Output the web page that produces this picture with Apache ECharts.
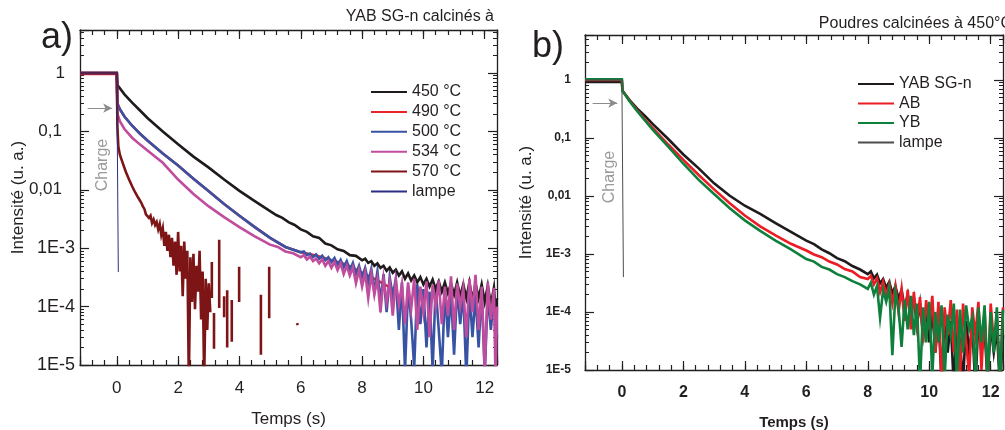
<!DOCTYPE html>
<html>
<head>
<meta charset="utf-8">
<script src="https://cdn.jsdelivr.net/npm/echarts@6/dist/echarts.min.js"></script>
<style>
html,body{margin:0;padding:0;background:#fff;}
#c{width:1005px;height:430px;}
</style>
</head>
<body>
<div id="c"></div>
<script>
// ---------- Panel a : YAB SG-n calcined at various temperatures ----------
const legendA = ['450 °C', '490 °C', '500 °C', '534 °C', '570 °C', 'lampe'];

const tA450 = [-1.2, 0, 0.02, 0.25, 0.5, 0.75, 1.0, 1.25, 1.5, 2.0, 2.5, 3.0, 3.5, 4.0, 4.5, 5.0,
  5.2, 5.4, 5.6, 5.8, 6.0, 6.2, 6.4, 6.6, 6.8, 7.0, 7.2, 7.4, 7.6, 7.8, 8.0,
  8.1, 8.2, 8.3, 8.4, 8.5, 8.6, 8.7, 8.8, 8.9, 9.0, 9.1, 9.2, 9.3, 9.4, 9.5, 9.6, 9.7, 9.8, 9.9, 10.0,
  10.1, 10.2, 10.3, 10.4, 10.5, 10.6, 10.7, 10.8, 10.9, 11.0, 11.1, 11.2, 11.3, 11.4, 11.5, 11.6, 11.7, 11.8, 11.9, 12.0,
  12.1, 12.2, 12.3, 12.35, 12.4];
const vA450 = [1, 1, 0.62, 0.43, 0.31, 0.23, 0.17, 0.13, 0.1, 0.06, 0.037, 0.024, 0.015, 0.0096, 0.0064, 0.0043,
  0.0037, 0.0033, 0.0028, 0.0025, 0.0021, 0.0019, 0.0016, 0.0015, 0.0012, 0.00112, 0.00096, 0.0009, 0.00076, 0.00074, 0.00062,
  0.00066, 0.00056, 0.0006, 0.0005, 0.00055, 0.00046, 0.0005, 0.00041, 0.00047, 0.00038, 0.00043, 0.00034, 0.0004, 0.0003, 0.00037, 0.00028, 0.00034, 0.00026, 0.00032, 0.00024,
  0.0003, 0.00022, 0.00029, 0.0002, 0.00027, 0.00018, 0.00026, 0.00017, 0.00025, 0.00016, 0.00026, 0.00015, 0.00024, 0.00014, 0.00026, 0.00013, 0.00025, 0.00014, 0.00024, 0.00012,
  0.00023, 0.00011, 0.00021, 0.00009, 0.00014];

const tA500 = [-1.2, 0, 0.02, 0.1, 0.25, 0.5, 0.75, 1.0, 1.5, 2.0, 2.5, 3.0, 3.5, 4.0, 4.5, 5.0, 5.5,
  6.0, 6.1, 6.2, 6.3, 6.4, 6.5, 6.6, 6.7, 6.8, 6.9, 7.0, 7.1, 7.2, 7.3, 7.4, 7.5, 7.6, 7.7, 7.8, 7.9,
  8.0, 8.1, 8.2, 8.3, 8.4, 8.5, 8.6, 8.7, 8.8, 8.9, 9.0, 9.1, 9.2, 9.3, 9.4, 9.5, 9.6, 9.7, 9.8, 9.9,
  10.0, 10.1, 10.2, 10.3, 10.4, 10.5, 10.6, 10.7, 10.8, 10.9, 11.0, 11.1, 11.2, 11.3, 11.4, 11.5, 11.6, 11.7, 11.8, 11.9,
  12.0, 12.1, 12.2, 12.3, 12.4];
const vA500 = [1, 1, 0.3, 0.24, 0.18, 0.125, 0.092, 0.07, 0.042, 0.026, 0.0155, 0.0094, 0.0057, 0.0036, 0.0023, 0.0015, 0.00105,
  0.00085, 0.00088, 0.00076, 0.00081, 0.0007, 0.00078, 0.00066, 0.00074, 0.00062, 0.0007, 0.00058, 0.00068, 0.00052, 0.00063, 0.00047, 0.0006, 0.00042, 0.00056, 0.00036, 0.0005,
  0.00032, 0.00046, 0.00026, 0.00044, 0.00018, 0.0004, 0.00012, 0.00036, 0.00008, 0.00032, 0.00015, 0.0003, 0.00004, 0.00026, 0.000008, 0.00022, 0.00006, 0.000009, 0.00024, 0.00005,
  0.0002, 0.00002, 0.00018, 0.000008, 0.00022, 0.00004, 0.000007, 0.0002, 0.00003, 0.00017, 0.000015, 0.00021, 0.00005, 0.00018, 0.000006, 0.00019, 0.00003, 0.00016, 0.00002, 0.0002,
  0.000007, 0.00017, 0.00004, 0.00015, 0.00003];

const tA490 = [-1.2, 0, 0.02, 0.1, 0.25, 0.5, 0.75, 1.0, 1.5, 2.0, 2.5, 3.0, 3.5, 4.0, 4.5, 5.0, 5.5,
  6.0, 6.5, 7.0, 7.5, 8.0, 8.5, 9.0];
const vA490 = [0.96, 0.96, 0.3, 0.24, 0.18, 0.125, 0.092, 0.07, 0.042, 0.026, 0.0155, 0.0094, 0.0057, 0.0036, 0.0023, 0.0015, 0.00105,
  0.00085, 0.00075, 0.00062, 0.00052, 0.00038, 0.00028, 0.0002];

const tA534 = [-1.2, 0, 0.02, 0.1, 0.25, 0.5, 0.75, 1.0, 1.5, 2.0, 2.5, 3.0, 3.5, 4.0, 4.5, 5.0, 5.25, 5.5, 5.75,
  6.0, 6.1, 6.2, 6.3, 6.4, 6.5, 6.6, 6.7, 6.8, 6.9, 7.0, 7.1, 7.2, 7.3, 7.4, 7.5, 7.6, 7.7, 7.8, 7.9,
  8.0, 8.1, 8.2, 8.3, 8.4, 8.5, 8.6, 8.7, 8.8, 8.9, 9.0, 9.1, 9.2, 9.3, 9.4, 9.5, 9.6, 9.7, 9.8, 9.9,
  10.0, 10.1, 10.2, 10.3, 10.4, 10.5, 10.6, 10.7, 10.8, 10.9, 11.0, 11.1, 11.2, 11.3, 11.4, 11.5, 11.6, 11.7, 11.8, 11.9,
  12.0, 12.1, 12.2, 12.3, 12.35, 12.4];
const vA534 = [1, 1, 0.2, 0.15, 0.11, 0.078, 0.06, 0.047, 0.029, 0.015, 0.0085, 0.0052, 0.0034, 0.0023, 0.0016, 0.00115, 0.00105, 0.00088, 0.00082,
  0.0007, 0.00076, 0.00064, 0.00072, 0.0006, 0.00066, 0.00055, 0.00064, 0.0005, 0.0006, 0.00046, 0.00058, 0.00042, 0.00055, 0.00036, 0.0005, 0.00034, 0.00047, 0.00025, 0.00042,
  0.00022, 0.00038, 0.00014, 0.00036, 0.00016, 0.0003, 0.00008, 0.0003, 0.00012, 0.00026, 0.00007, 0.00028, 0.00011, 0.00024, 0.00005, 0.00026, 0.00009, 0.0003, 0.00004, 0.00022,
  0.00008, 0.00027, 0.00003, 0.00024, 0.0001, 0.00028, 0.00005, 0.00022, 0.00007, 0.00033, 0.00004, 0.00025, 0.0001, 0.00021, 0.00003, 0.0003, 0.00008, 0.00035, 0.00004, 0.00022,
  0.000008, 0.00026, 0.00006, 0.00021, 0.000006, 0.0001];

// null = no signal (gap in the trace)
const tA570 = [-1.2, 0, 0.02, 0.05, 0.1, 0.2, 0.3, 0.4, 0.5, 0.6, 0.7, 0.8, 0.85, 0.9, 0.95, 1.0, 1.05, 1.1, 1.15, 1.2, 1.25,
  1.3, 1.35, 1.4, 1.45, 1.5, 1.55, 1.6, 1.65, 1.7, 1.75, 1.8, 1.85, 1.9, 1.95, 2.0, 2.05, 2.1, 2.15, 2.2, 2.25, 2.3, 2.35,
  2.4, 2.45, 2.5, 2.55, 2.6, 2.65, 2.7, 2.75, 2.8, 2.85, 2.9, 2.95, 3.0, 3.05, 3.05,
  3.1, 3.1, 3.1, 3.17, 3.17, 3.17, 3.34, 3.34, 3.34, 3.5, 3.5, 3.5, 3.6, 3.6, 3.6, 3.75, 3.75, 3.75,
  3.99, 3.99, 3.99, 4.7, 4.7, 4.7, 4.97, 4.97, 4.97, 5.88, 5.9];
const vA570 = [1, 1, 0.12, 0.055, 0.04, 0.028, 0.02, 0.015, 0.0115, 0.009, 0.0073, 0.006, 0.0052, 0.0047, 0.0038, 0.0041, 0.0033, 0.0036, 0.0027, 0.0031, 0.0025,
  0.0028, 0.0021, 0.0026, 0.0017, 0.0022, 0.0011, 0.0019, 0.0009, 0.0017, 0.0007, 0.0015, 0.0005, 0.0013, 0.00035, 0.0019, 0.0004, 0.0011, 0.00015, 0.0013, 0.0003, 0.0009, 0.000005,
  0.0007, 0.00012, 0.0008, 0.00009, 0.0005, 0.00018, 0.0009, 0.00006, 0.0004, 0.000005, 0.0003, 0.00004, 0.00025, 0.00008, null,
  0.00058, 0.00014, null, 0.000078, 0.000019, null, 0.0014, 0.000095, null, 0.00015, 0.000066, null, 0.00019, 0.00002, null, 0.00013, 0.000025, null,
  0.00048, 0.00012, null, 0.00016, 0.000015, null, 0.00048, 0.000063, null, 0.000052, 0.000048];

const tALamp = [-1.2, 0, 0.05];
const vALamp = [1, 1, 0.00039];

// ---------- Panel b : powders calcined at 450 °C ----------
const legendB = ['YAB SG-n', 'AB', 'YB', 'lampe '];

const tBYAB = [-1.2, 0, 0.02, 0.25, 0.5, 0.75, 1.0, 1.5, 2.0, 2.5, 3.0, 3.5, 4.0, 4.5, 5.0, 5.5, 6.0, 6.25, 6.5, 6.75, 7.0, 7.25, 7.5, 7.75,
  8.0, 8.1, 8.2, 8.3, 8.4, 8.5, 8.6, 8.7, 8.8, 8.9, 9.0, 9.1, 9.2, 9.3, 9.4, 9.5, 9.6, 9.7, 9.8, 9.9,
  10.0, 10.1, 10.2, 10.3, 10.4, 10.5, 10.6, 10.7, 10.8, 10.9, 11.0, 11.1, 11.2, 11.3, 11.4, 11.5, 11.6, 11.7, 11.8, 11.9,
  12.0, 12.1, 12.2, 12.3, 12.4];
const vBYAB = [0.93, 0.93, 0.65, 0.45, 0.32, 0.24, 0.175, 0.097, 0.052, 0.03, 0.0165, 0.0102, 0.0068, 0.0049, 0.0034, 0.0024, 0.0017, 0.00148, 0.0012, 0.00103, 0.00085, 0.00075, 0.00062, 0.00054,
  0.00045, 0.0005, 0.00038, 0.00044, 0.00031, 0.00037, 0.00026, 0.00033, 0.00021, 0.00028, 0.00017, 0.00024, 0.00012, 0.0002, 0.00009, 0.00017, 0.00006, 0.00014, 0.00004, 0.00012,
  0.00003, 0.0001, 0.00002, 0.00009, 0.000006, 0.00008, 0.00002, 0.00007, 0.000005, 0.00008, 0.00003, 0.000006, 0.00007, 0.00002, 0.00006, 0.000005, 0.00007, 0.00002, 0.00005, 0.000006,
  0.00006, 0.00002, 0.00005, 0.000005, 0.00004];

const tBAB = [-1.2, 0, 0.02, 0.25, 0.5, 0.75, 1.0, 1.5, 2.0, 2.5, 3.0, 3.5, 4.0, 4.5, 5.0, 5.5, 6.0, 6.25, 6.5, 6.75, 7.0, 7.25, 7.5, 7.75,
  8.0, 8.1, 8.2, 8.3, 8.4, 8.5, 8.6, 8.7, 8.8, 8.9, 9.0, 9.1, 9.2, 9.3, 9.4, 9.5, 9.6, 9.7, 9.8, 9.9,
  10.0, 10.1, 10.2, 10.3, 10.4, 10.5, 10.6, 10.7, 10.8, 10.9, 11.0, 11.1, 11.2, 11.3, 11.4, 11.5, 11.6, 11.7, 11.8, 11.9,
  12.0, 12.1, 12.2, 12.3, 12.4];
const vBAB = [1, 1, 0.65, 0.44, 0.3, 0.21, 0.15, 0.078, 0.042, 0.023, 0.013, 0.0076, 0.0046, 0.003, 0.0021, 0.0015, 0.00115, 0.00098, 0.00088, 0.00074, 0.00066, 0.00055, 0.0005, 0.0004,
  0.00037, 0.00042, 0.0003, 0.00038, 0.00022, 0.00033, 0.00019, 0.0003, 0.00014, 0.00028, 0.0001, 0.00025, 0.00007, 0.00024, 0.00005, 0.00022, 0.00006, 0.00018, 0.00003, 0.00016,
  0.00005, 0.00019, 0.00002, 0.00015, 0.000006, 0.00012, 0.00004, 0.00016, 0.00002, 0.00011, 0.000007, 0.00014, 0.00003, 0.000008, 0.00012, 0.00004, 0.00015, 0.00001, 0.00011, 0.000006,
  0.00014, 0.00003, 0.00009, 0.000007, 0.00012];

const tBYB = [-1.2, 0, 0.02, 0.25, 0.5, 0.75, 1.0, 1.5, 2.0, 2.5, 3.0, 3.5, 4.0, 4.5, 5.0, 5.5, 6.0, 6.25, 6.5, 6.75, 7.0, 7.25, 7.5, 7.75,
  8.0, 8.1, 8.2, 8.3, 8.4, 8.5, 8.6, 8.7, 8.8, 8.9, 9.0, 9.1, 9.2, 9.3, 9.4, 9.5, 9.6, 9.7, 9.8, 9.9,
  10.0, 10.1, 10.2, 10.3, 10.4, 10.5, 10.6, 10.7, 10.8, 10.9, 11.0, 11.1, 11.2, 11.3, 11.4, 11.5, 11.6, 11.7, 11.8, 11.9,
  12.0, 12.1, 12.2, 12.3, 12.4];
const vBYB = [1.03, 1.03, 0.65, 0.43, 0.29, 0.2, 0.14, 0.072, 0.036, 0.019, 0.0108, 0.0062, 0.0038, 0.0025, 0.0017, 0.0012, 0.00082, 0.00074, 0.0006, 0.00054, 0.00045, 0.0004, 0.00034, 0.0003,
  0.00025, 0.00032, 0.0002, 0.00028, 0.00008, 0.00024, 0.00015, 0.00026, 0.000018, 0.00022, 0.00012, 0.000025, 0.00016, 0.00005, 0.00019, 0.00004, 0.00014, 0.000006, 0.00012, 0.00003,
  0.00015, 0.000008, 0.0001, 0.00003, 0.00013, 0.000007, 0.00009, 0.00004, 0.00014, 0.000006, 0.00011, 0.00002, 0.00013, 0.00005, 0.00008, 0.000008, 0.00012, 0.00003, 0.00013, 0.000007,
  0.0001, 0.00002, 0.00012, 0.000006, 0.00011];

const tBLamp = [-1.2, 0, 0.05];
const vBLamp = [1, 1, 0.0004];

// ---------------------------------------------------------------------------
const FONT = "'Liberation Sans', Arial, sans-serif";
const TXT = '#231f20';
const zip = (t, v) => t.map((x, i) => [x, v[i]]);

function yLabel(v) {
  const l = Math.log10(v);
  const e = Math.round(l);
  if (Math.abs(l - e) > 0.01) return '';
  if (e === 0) return '1';
  if (e === -1) return '0,1';
  if (e === -2) return '0,01';
  return '1E' + e;
}
function xLabel(v) {
  const r = Math.round(v);
  if (Math.abs(v - r) > 1e-6 || r % 2 !== 0) return '';
  return String(r);
}

function xAxes(gi, bold, fs) {
  const base = {gridIndex: gi, type: 'value', min: -1.2, max: 12.4, splitLine: {show: false}};
  const line = {show: true, onZero: false, lineStyle: {color: TXT, width: 1.3}};
  return [
    Object.assign({}, base, {position: 'bottom', interval: 0.4, axisLine: line,
      axisTick: {inside: true, length: 5, lineStyle: {color: TXT, width: 1.2}}, axisLabel: {show: false}}),
    Object.assign({}, base, {position: 'bottom', splitNumber: 7, axisLine: {show: false, onZero: false},
      axisTick: {inside: true, length: 9, lineStyle: {color: TXT, width: 1.2}},
      axisLabel: {show: true, formatter: xLabel, margin: 15, fontSize: fs, fontWeight: bold ? 'bold' : 'normal', color: TXT, fontFamily: FONT},
      name: 'Temps (s)', nameLocation: 'middle', nameGap: bold ? 45 : 46, nameMoveOverlap: false,
      nameTextStyle: {fontSize: bold ? 15 : 17, fontWeight: bold ? 'bold' : 'normal', color: TXT, fontFamily: FONT}}),
    Object.assign({}, base, {position: 'top', interval: 0.4, axisLine: line,
      axisTick: {inside: true, length: 5, lineStyle: {color: TXT, width: 1.2}}, axisLabel: {show: false}}),
    Object.assign({}, base, {position: 'top', splitNumber: 7, axisLine: {show: false, onZero: false},
      axisTick: {inside: true, length: 9, lineStyle: {color: TXT, width: 1.2}}, axisLabel: {show: false}})
  ];
}

function yAxes(gi, maxV, labelOpt, nameGap) {
  const base = {gridIndex: gi, type: 'log', logBase: 10, min: 0.00001, max: maxV, splitLine: {show: false},
    axisLine: {show: true, onZero: false, lineStyle: {color: TXT, width: 1.3}},
    axisTick: {inside: true, length: 9, lineStyle: {color: TXT, width: 1.2}},
    minorTick: {show: true, splitNumber: 9, length: 4, lineStyle: {color: TXT, width: 1}}};
  return [
    Object.assign({}, base, {position: 'left', axisLabel: labelOpt,
      name: 'Intensité (u. a.)', nameLocation: 'middle', nameGap: nameGap, nameMoveOverlap: false,
      nameTextStyle: {fontSize: 17, color: TXT, fontFamily: FONT}}),
    Object.assign({}, base, {position: 'right', axisLabel: {show: false}})
  ];
}

function mkSeries(name, t, v, color, width, xi, yi, extra) {
  return Object.assign({
    type: 'line', name: name, data: zip(t, v), xAxisIndex: xi, yAxisIndex: yi,
    symbol: 'none', showSymbol: false, connectNulls: false, clip: true, silent: true,
    lineStyle: {color: color, width: width, join: 'miter'}, itemStyle: {color: color},
    emphasis: {disabled: true}
  }, extra || {});
}

const arrow = (y) => ({
  silent: true, symbol: ['none', 'arrow'], symbolSize: [7, 9],
  lineStyle: {color: '#8c8c8c', width: 1, type: 'solid'}, label: {show: false},
  data: [[{coord: [-0.95, y]}, {coord: [-0.15, y]}]]
});

const labelA = {
  show: true, margin: 5, fontSize: 18, color: TXT, fontFamily: FONT,
  formatter: function (v) {
    const s = yLabel(v);
    if (!s) return '';
    if (s.indexOf('E') >= 0) return s;
    if (s === '1') return '{q|1}';
    return '{p|' + s + '}';
  },
  rich: {
    p: {fontSize: 17, color: TXT, fontFamily: FONT, padding: [0, 13, 0, 0]},
    q: {fontSize: 17, color: TXT, fontFamily: FONT, padding: [0, 10, 0, 0]}
  }
};
const labelB = {show: true, margin: 14, fontSize: 12, fontWeight: 'bold', color: TXT, fontFamily: FONT, formatter: yLabel};

const legendCommon = {orient: 'vertical', itemWidth: 36, itemHeight: 14, selectedMode: false,
  itemStyle: {opacity: 0}, textStyle: {fontSize: 16, color: TXT, fontFamily: FONT}};

const option = {
  animation: false,
  backgroundColor: '#fff',
  grid: [
    {left: 80, top: 30, width: 417, height: 335, containLabel: false, outerBoundsMode: 'none'},
    {left: 585, top: 35, width: 418, height: 335, containLabel: false, outerBoundsMode: 'none'}
  ],
  xAxis: xAxes(0, false, 17).concat(xAxes(1, true, 16)),
  yAxis: yAxes(0, 5.45, labelA, 53).concat(yAxes(1, 5.97, labelB, 50)),
  legend: [
    Object.assign({}, legendCommon, {data: legendA, left: 365, top: 79, itemGap: 3.9}),
    Object.assign({}, legendCommon, {data: legendB, left: 852, top: 71, itemGap: 3.5})
  ],
  series: [
    mkSeries('490 °C', tA490, vA490, '#e8242a', 2.6, 0, 0),
    mkSeries('500 °C', tA500, vA500, '#3853a4', 2.6, 0, 0),
    mkSeries('450 °C', tA450, vA450, '#1f1a1b', 2.6, 0, 0),
    mkSeries('534 °C', tA534, vA534, '#c04c9e', 2.6, 0, 0),
    mkSeries('570 °C', tA570, vA570, '#7d1416', 2.6, 0, 0),
    mkSeries('lampe', tALamp, vALamp, '#2b2e83', 1, 0, 0, {markLine: arrow(0.25)}),

    mkSeries('YAB SG-n', tBYAB, vBYAB, '#1f1a1b', 2.6, 4, 2),
    mkSeries('AB', tBAB, vBAB, '#ec1c24', 2.6, 4, 2),
    mkSeries('YB', tBYB, vBYB, '#0f7f3c', 2.6, 4, 2),
    mkSeries('lampe ', tBLamp, vBLamp, '#4d4d4d', 1, 4, 2, {markLine: arrow(0.4)})
  ],
  graphic: [
    {type: 'text', x: 57, y: 38, style: {text: 'a)', fontSize: 36, fontFamily: FONT, fill: TXT, align: 'center', verticalAlign: 'middle'}},
    {type: 'text', x: 548, y: 47, style: {text: 'b)', fontSize: 36, fontFamily: FONT, fill: TXT, align: 'center', verticalAlign: 'middle'}},
    {type: 'text', x: 494, y: 17, style: {text: 'YAB SG-n calcinés à', fontSize: 16, fontFamily: FONT, fill: TXT, align: 'right', verticalAlign: 'middle'}},
    {type: 'text', x: 1012, y: 24, style: {text: 'Poudres calcinées à 450°C', fontSize: 16, fontFamily: FONT, fill: TXT, align: 'right', verticalAlign: 'middle'}},
    {type: 'text', x: 103, y: 165, rotation: Math.PI / 2, style: {text: 'Charge', fontSize: 16, fontFamily: FONT, fill: '#9a9a9a', align: 'center', verticalAlign: 'middle'}},
    {type: 'text', x: 610, y: 177, rotation: Math.PI / 2, style: {text: 'Charge', fontSize: 16, fontFamily: FONT, fill: '#9a9a9a', align: 'center', verticalAlign: 'middle'}}
  ]
};

const chart = echarts.init(document.getElementById('c'), null, {renderer: 'canvas'});
chart.setOption(option);
</script>
</body>
</html>
